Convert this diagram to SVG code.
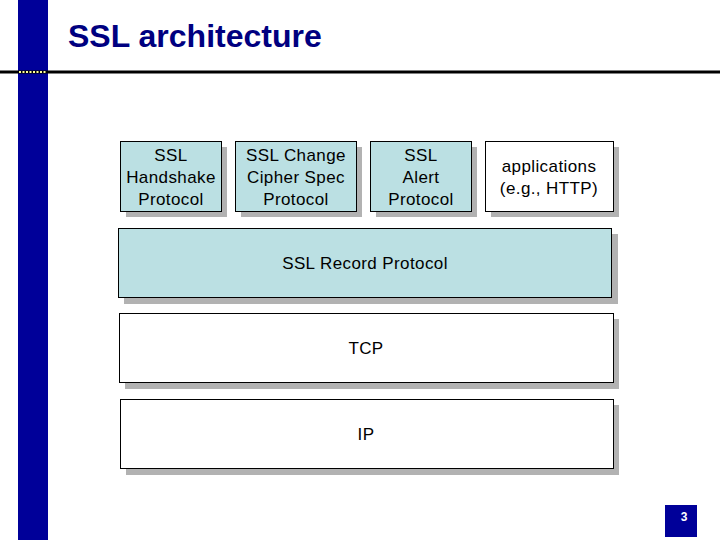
<svg xmlns="http://www.w3.org/2000/svg" width="720" height="540" viewBox="0 0 720 540">
<style>
.sh{fill:#b2b2b2}
.b{stroke:#000;stroke-width:1}
.blue{fill:#bbe0e3}
.w{fill:#fff}
text{font-family:"Liberation Sans",Arial,sans-serif;font-size:17px;letter-spacing:0.4px;text-anchor:middle;fill:#000}
</style>
<rect width="720" height="540" fill="#fff"/>
<rect x="18" y="0" width="30" height="540" fill="#000099"/>
<rect x="0" y="70.5" width="720" height="3" fill="#000"/>
<line x1="19" y1="72" x2="47" y2="72" stroke="#ffff99" stroke-width="2" stroke-dasharray="2,1.5"/>
<text x="68" y="47" style="font-size:32px;letter-spacing:0;font-weight:bold;fill:#000080;text-anchor:start">SSL architecture</text>
<g id="handshake"><rect class="sh" x="126" y="147" width="101" height="70"/><rect class="b blue" x="120.5" y="141.5" width="101" height="70"/><text x="171" y="161">SSL</text><text x="171" y="183">Handshake</text><text x="171" y="205">Protocol</text></g>
<g id="ccs"><rect class="sh" x="241" y="147" width="121" height="70"/><rect class="b blue" x="235.5" y="141.5" width="121" height="70"/><text x="296" y="161">SSL Change</text><text x="296" y="183">Cipher Spec</text><text x="296" y="205">Protocol</text></g>
<g id="alert"><rect class="sh" x="376" y="147" width="101" height="70"/><rect class="b blue" x="370.5" y="141.5" width="101" height="70"/><text x="421" y="161">SSL</text><text x="421" y="183">Alert</text><text x="421" y="205">Protocol</text></g>
<g id="apps"><rect class="sh" x="491" y="147" width="128" height="70"/><rect class="b w" x="485.5" y="141.5" width="128" height="70"/><text x="549" y="172">applications</text><text x="549" y="194">(e.g., HTTP)</text></g>
<g id="record"><rect class="sh" x="124" y="234" width="494" height="70"/><rect class="b blue" x="118.5" y="228.5" width="493" height="69"/><text x="365" y="269">SSL Record Protocol</text></g>
<g id="tcp"><rect class="sh" x="125" y="319" width="494" height="70"/><rect class="b w" x="119.5" y="313.5" width="494" height="69"/><text x="366" y="354">TCP</text></g>
<g id="ip"><rect class="sh" x="126" y="405" width="493" height="70"/><rect class="b w" x="120.5" y="399.5" width="493" height="69"/><text x="366" y="440">IP</text></g>
<g id="page"><rect x="665" y="505" width="32" height="32" fill="#000099"/><text x="684" y="521" style="font-size:12px;letter-spacing:0;font-weight:bold;fill:#fff">3</text></g>
<g id="connectors"/>
</svg>
